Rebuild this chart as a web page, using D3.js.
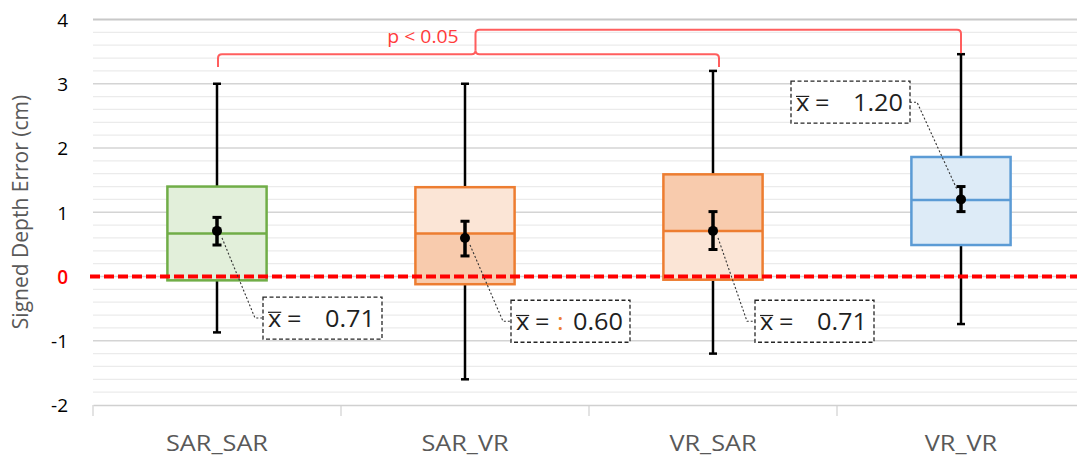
<!DOCTYPE html>
<html><head><meta charset="utf-8">
<script src="https://cdn.jsdelivr.net/npm/d3@7"></script>
<style>
html,body{margin:0;padding:0;background:#fff;}
svg{display:block;}
text{font-family:"Open Sans","Noto Sans",sans-serif;}
</style></head>
<body>
<svg id="chart" width="1077" height="456"></svg>
<script>
// ---- data ----
const categories = ["SAR_SAR", "SAR_VR", "VR_SAR", "VR_VR"];
const whiskerMin = [-0.87, -1.60, -1.20, -0.74];
const q1         = [-0.06, -0.12, -0.05, 0.49];
const median     = [0.67, 0.67, 0.71, 1.19];
const q3         = [1.40, 1.39, 1.59, 1.86];
const whiskerMax = [3.00, 3.00, 3.20, 3.46];
const means      = [0.71, 0.60, 0.71, 1.20];
const ciLow      = [0.49, 0.32, 0.42, 1.01];
const ciHigh     = [0.92, 0.86, 1.01, 1.40];
const meanLabels = ["0.71", "0.60", "0.71", "1.20"];
const yTicks     = [-2, -1, 0, 1, 2, 3, 4];
const yTitle     = "Signed Depth Error (cm)";
const sigText    = "p < 0.05";

(function () {
// ---- styles ----
const strokeCols = ["#70ad47", "#ed7d31", "#ed7d31", "#5b9bd5"];
const upperFill  = ["#e2efda", "#fbe5d6", "#f8cbad", "#ddebf7"];
const lowerFill  = ["#e2efda", "#f8cbad", "#fbe5d6", "#ddebf7"];
// label box layout (offset from category centre in px, top in value units)
const labelDx    = [46, 46, 42, -170];
const labelTopV  = [-0.32, -0.37, -0.37, 3.04];
const labelW = 119, labelH = 42;

const svg = d3.select("#chart");
const pLeft = 93, pRight = 1085, pTop = 19.5, pBottom = 405;
const y = d3.scaleLinear().domain([-2, 4]).range([pBottom, pTop]);
const x = d3.scaleBand().domain(categories).range([pLeft, pRight]).padding(0);
const cx = c => x(c) + x.bandwidth() / 2;
const boxW = x.bandwidth() * 0.4;

// minor grid
const minor = d3.range(-2, 4.0001, 0.2).filter(v => Math.abs(v - Math.round(v)) > 1e-6);
svg.append("g").selectAll("line").data(minor).join("line")
  .attr("x1", pLeft).attr("x2", 1077).attr("y1", d => y(d)).attr("y2", d => y(d))
  .attr("stroke", "#ebebeb").attr("stroke-width", 1.2);
// major grid
svg.append("g").selectAll("line").data(yTicks.filter(d => d > -2)).join("line")
  .attr("x1", pLeft).attr("x2", 1077).attr("y1", d => y(d)).attr("y2", d => y(d))
  .attr("stroke", d => d === 4 ? "#c8c8c8" : "#d4d4d4").attr("stroke-width", d => d === 4 ? 2 : 1.5);

// x axis
const xAxis = d3.axisBottom(x).tickSize(0).tickFormat("");
const gx = svg.append("g").attr("transform", `translate(0,${pBottom})`).call(xAxis);
gx.select(".domain").attr("stroke", "#d0d0d0").attr("stroke-width", 1.5);
svg.append("g").selectAll("line").data(categories).join("line")
  .attr("x1", d => x(d)).attr("x2", d => x(d)).attr("y1", pBottom).attr("y2", pBottom + 11)
  .attr("stroke", "#d0d0d0").attr("stroke-width", 1.2);
svg.append("g").selectAll("text").data(categories).join("text")
  .attr("transform", d => `translate(${cx(d)},451) scale(1.15,1)`).attr("text-anchor", "middle")
  .attr("font-size", 22).attr("fill", "#595959").text(d => d);

// y axis labels
const yAxis = d3.axisLeft(y).tickValues(yTicks).tickSize(0).tickPadding(0).tickFormat(d => String(d));
const gy = svg.append("g").attr("transform", "translate(68,0)").call(yAxis);
gy.select(".domain").remove();
gy.selectAll("text").attr("font-size", 19).attr("font-family", "Open Sans")
  .attr("fill", d => d === 0 ? "#ff0000" : "#000").attr("font-weight", d => d === 0 ? 600 : 400)
  .attr("dy", "0.36em");
svg.append("text").attr("transform", `translate(28,212) rotate(-90)`)
  .attr("text-anchor", "middle").attr("font-size", 21).attr("fill", "#595959").text(yTitle);

// boxes
const g = svg.append("g");
categories.forEach((c, i) => {
  const xc = cx(c);
  g.append("line").attr("x1", xc).attr("x2", xc).attr("y1", y(q3[i])).attr("y2", y(whiskerMax[i]))
    .attr("stroke", "#000").attr("stroke-width", 2.5);
  g.append("line").attr("x1", xc).attr("x2", xc).attr("y1", y(q1[i])).attr("y2", y(whiskerMin[i]))
    .attr("stroke", "#000").attr("stroke-width", 2.5);
  [whiskerMax[i], whiskerMin[i]].forEach(v => {
    g.append("line").attr("x1", xc - 4).attr("x2", xc + 4).attr("y1", y(v)).attr("y2", y(v))
      .attr("stroke", "#000").attr("stroke-width", 2.5);
  });
  g.append("rect").attr("x", xc - boxW / 2).attr("width", boxW)
    .attr("y", y(q3[i])).attr("height", y(median[i]) - y(q3[i])).attr("fill", upperFill[i]);
  g.append("rect").attr("x", xc - boxW / 2).attr("width", boxW)
    .attr("y", y(median[i])).attr("height", y(q1[i]) - y(median[i])).attr("fill", lowerFill[i]);
  g.append("rect").attr("x", xc - boxW / 2).attr("width", boxW)
    .attr("y", y(q3[i])).attr("height", y(q1[i]) - y(q3[i]))
    .attr("fill", "none").attr("stroke", strokeCols[i]).attr("stroke-width", 2.5);
  g.append("line").attr("x1", xc - boxW / 2).attr("x2", xc + boxW / 2)
    .attr("y1", y(median[i])).attr("y2", y(median[i]))
    .attr("stroke", strokeCols[i]).attr("stroke-width", 2.5);
});

// zero line
svg.append("line").attr("x1", 90).attr("x2", 1077).attr("y1", y(0)).attr("y2", y(0))
  .attr("stroke", "#ff0000").attr("stroke-width", 4).attr("stroke-dasharray", "10,4");

// mean + CI
const g2 = svg.append("g");
categories.forEach((c, i) => {
  const xc = cx(c);
  g2.append("line").attr("x1", xc).attr("x2", xc).attr("y1", y(ciLow[i])).attr("y2", y(ciHigh[i]))
    .attr("stroke", "#000").attr("stroke-width", 3.5);
  [ciLow[i], ciHigh[i]].forEach(v => {
    g2.append("line").attr("x1", xc - 4.5).attr("x2", xc + 4.5).attr("y1", y(v)).attr("y2", y(v))
      .attr("stroke", "#000").attr("stroke-width", 3);
  });
});
svg.append("g").selectAll("circle").data(categories).join("circle")
  .attr("cx", d => cx(d)).attr("cy", (d, i) => y(means[i])).attr("r", 5).attr("fill", "#000");

// mean labels
const lab = svg.append("g");
const fs = 23;
categories.forEach((c, i) => {
  const xc = cx(c);
  const bx = xc + labelDx[i], by = y(labelTopV[i]);
  const midY = by + labelH / 2;
  const base = midY + 8.5;
  let pts;
  if (labelDx[i] > 0) {
    pts = [[xc + 5, y(means[i]) + 7], [bx - 8, midY], [bx, midY]];
  } else {
    pts = [[bx + labelW, midY], [bx + labelW + 7, midY], [xc - 4, y(means[i]) - 10]];
  }
  lab.append("path").attr("d", d3.line()(pts)).attr("fill", "none")
    .attr("stroke", "#333").attr("stroke-width", 1.1).attr("stroke-dasharray", "2,2");
  lab.append("rect").attr("x", bx).attr("y", by).attr("width", labelW).attr("height", labelH)
    .attr("fill", "#fff").attr("stroke", "#262626").attr("stroke-width", 1.3).attr("stroke-dasharray", "4,2.5");
  const xt = lab.append("text").attr("transform", `translate(${bx + 5},${base}) scale(1.1,1)`)
    .attr("font-size", fs).attr("fill", "#1f1f1f").text("x");
  const xw = xt.node().getComputedTextLength() * 1.1;
  lab.append("line").attr("x1", bx + 5).attr("x2", bx + 5 + xw)
    .attr("y1", base - fs * 0.62).attr("y2", base - fs * 0.62)
    .attr("stroke", "#1f1f1f").attr("stroke-width", 1.2);
  lab.append("text").attr("transform", `translate(${bx + 24},${base}) scale(1.1,1)`)
    .attr("font-size", fs).attr("fill", "#1f1f1f").text("=");
  if (i === 1) lab.append("text").attr("transform", `translate(${bx + 46},${base}) scale(1.1,1)`)
    .attr("font-size", fs).attr("fill", "#ed7d31").text(":");
  lab.append("text").attr("transform", `translate(${bx + labelW - 7},${base}) scale(1.1,1)`)
    .attr("text-anchor", "end").attr("font-size", fs).attr("fill", "#1f1f1f").text(meanLabels[i]);
});

// significance brackets
const red = "#ff4d4d";
const lowY = y(3.46), lowEnd = y(3.26), upY = y(3.84), upEnd = y(whiskerMax[3]) - 1;
const xa = cx(categories[0]) + 1, xb = cx(categories[2]) + 6, xm = (xa + xb) / 2 + 7, xd = cx(categories[3]);
const r = 4;
const br = svg.append("g").attr("fill", "none").attr("stroke", red).attr("stroke-width", 2).attr("opacity", 0.9);
br.append("path").attr("d",
  `M${xa},${lowEnd} L${xa},${lowY + r} Q${xa},${lowY} ${xa + r},${lowY} L${xm - r},${lowY} Q${xm},${lowY} ${xm},${lowY - r}` +
  ` Q${xm},${lowY} ${xm + r},${lowY} L${xb - r},${lowY} Q${xb},${lowY} ${xb},${lowY + r} L${xb},${lowEnd}`);
br.append("path").attr("d",
  `M${xm},${lowY - r} L${xm},${upY + r} Q${xm},${upY} ${xm + r},${upY} L${xd - r},${upY} Q${xd},${upY} ${xd},${upY + r} L${xd},${upEnd}`);
svg.append("text").attr("transform", "translate(423,43) scale(1.05,1)").attr("text-anchor", "middle")
  .attr("font-size", 18.5).attr("fill", "#ff3b3b").text(sigText);
})();
</script>
</body></html>
